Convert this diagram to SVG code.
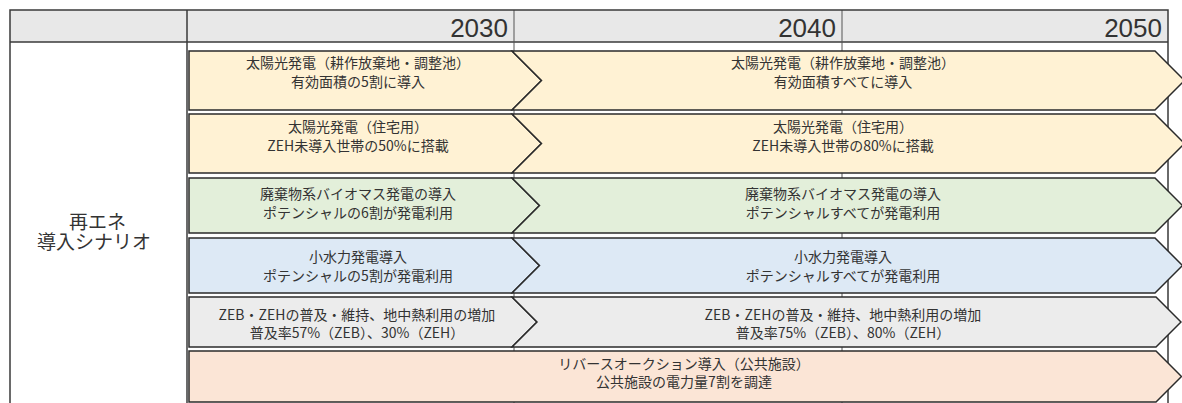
<svg xmlns="http://www.w3.org/2000/svg" width="1182" height="403" viewBox="0 0 1182 403">
<style>
.tl{stroke:#3a3a3a;stroke-width:1.5;fill:none}
.tli{stroke:#555;stroke-width:1;fill:none}
.ar{stroke:#2b2b2b;stroke-width:1.5;stroke-linejoin:miter}
.y{fill:#e8e8e8}
.c1{fill:#fff2d4}
.c3{fill:#e3efda}
.c4{fill:#dde9f5}
.c5{fill:#ececec}
.c6{fill:#fbe5d6}
text{font-family:"Noto Sans CJK JP","Noto Sans",sans-serif;fill:#333}
.t{font-size:14px;text-anchor:middle}
.yr{font-size:26px;text-anchor:end;font-family:"Liberation Sans","Noto Sans",sans-serif}
.lb{font-size:19px;text-anchor:middle}
</style>
<g id="table">
<rect x="10" y="10" width="1158" height="32" class="y"/>
<line x1="10" y1="42" x2="1168" y2="42" class="tl"/>
<line x1="187" y1="10" x2="187" y2="403" class="tl"/>
<line x1="514" y1="10" x2="514" y2="403" class="tli"/>
<line x1="842" y1="10" x2="842" y2="403" class="tli"/>
<path d="M10,403 V10 H1168 V403" class="tl"/>
<text class="yr" x="508" y="37">2030</text>
<text class="yr" x="836" y="37">2040</text>
<text class="yr" x="1162" y="37">2050</text>
</g>
<g id="label">
<text class="lb"><tspan x="97.5" y="229">再エネ</tspan><tspan x="94" y="249">導入シナリオ</tspan></text>
</g>
<g id="row1">
<path class="ar c1" d="M189,51 H512 L541.5,80.5 L512,110 H189 Z"/>
<path class="ar c1" d="M512,51 H1155 L1184.5,80.5 L1155,110 H512 L541.5,80.5 Z"/>
<text class="t" x="358" y="68">太陽光発電（耕作放棄地・調整池）</text>
<text class="t" x="358" y="87">有効面積の5割に導入</text>
<text class="t" x="843" y="68">太陽光発電（耕作放棄地・調整池）</text>
<text class="t" x="843" y="87">有効面積すべてに導入</text>
</g>
<g id="row2">
<path class="ar c1" d="M189,114 H512 L541.5,143.5 L512,173 H189 Z"/>
<path class="ar c1" d="M512,114 H1155 L1184.5,143.5 L1155,173 H512 L541.5,143.5 Z"/>
<text class="t" x="358" y="132">太陽光発電（住宅用）</text>
<text class="t" x="358" y="151">ZEH未導入世帯の50%に搭載</text>
<text class="t" x="843" y="132">太陽光発電（住宅用）</text>
<text class="t" x="843" y="151">ZEH未導入世帯の80%に搭載</text>
</g>
<g id="row3">
<path class="ar c3" d="M189,178 H512 L539.5,205.5 L512,233 H189 Z"/>
<path class="ar c3" d="M512,178 H1155 L1182.5,205.5 L1155,233 H512 L539.5,205.5 Z"/>
<text class="t" x="358" y="199">廃棄物系バイオマス発電の導入</text>
<text class="t" x="358" y="218">ポテンシャルの6割が発電利用</text>
<text class="t" x="843" y="199">廃棄物系バイオマス発電の導入</text>
<text class="t" x="843" y="218">ポテンシャルすべてが発電利用</text>
</g>
<g id="row4">
<path class="ar c4" d="M189,238 H512 L539.5,265.5 L512,293 H189 Z"/>
<path class="ar c4" d="M512,238 H1155 L1182.5,265.5 L1155,293 H512 L539.5,265.5 Z"/>
<text class="t" x="358" y="262">小水力発電導入</text>
<text class="t" x="358" y="281">ポテンシャルの5割が発電利用</text>
<text class="t" x="843" y="262">小水力発電導入</text>
<text class="t" x="843" y="281">ポテンシャルすべてが発電利用</text>
</g>
<g id="row5">
<path class="ar c5" d="M189,297 H512 L537,322 L512,347 H189 Z"/>
<path class="ar c5" d="M512,297 H1156 L1181,322 L1156,347 H512 L537,322 Z"/>
<text class="t" x="357" y="320">ZEB・ZEHの普及・維持、地中熱利用の増加</text>
<text class="t" x="357" y="338">普及率57%（ZEB）、30%（ZEH）</text>
<text class="t" x="843" y="320">ZEB・ZEHの普及・維持、地中熱利用の増加</text>
<text class="t" x="843" y="338">普及率75%（ZEB）、80%（ZEH）</text>
</g>
<g id="row6">
<path class="ar c6" d="M189,351 H1156 L1181.5,376.5 L1156,402 H189 Z"/>
<text class="t" x="684" y="369">リバースオークション導入（公共施設）</text>
<text class="t" x="684" y="387">公共施設の電力量7割を調達</text>
</g>
<g id="connectors"/>
</svg>
